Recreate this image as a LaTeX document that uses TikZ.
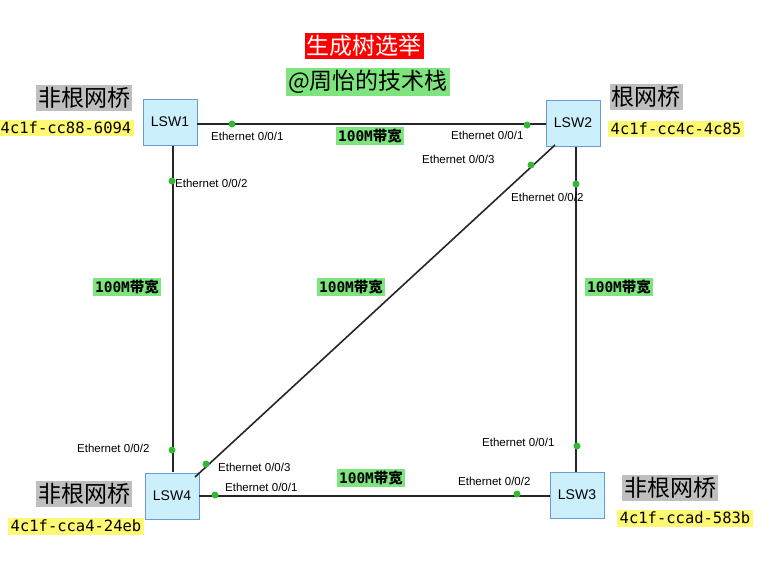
\documentclass[tikz,border=0pt]{standalone}
\usepackage{fontspec}
\setmainfont{Liberation Sans}
\newfontfamily\cjk{Noto Sans CJK SC}
\newfontfamily\mono{DejaVu Sans Mono}
\begin{document}
\begin{tikzpicture}[x=1pt,y=-1pt,
  sw/.style={draw=cyan!50!blue!60,fill=cyan!20,minimum width=54pt,minimum height=46pt,inner sep=0pt,font=\fontsize{14}{14}\selectfont},
  link/.style={line width=1.6pt,black!85},
  dot/.style={circle,fill=green!65!black!80,inner sep=0pt,minimum size=7pt},
  port/.style={font=\fontsize{11.5}{11.5}\selectfont,inner sep=1pt},
  bw/.style={fill=green!45!white!90!black,font=\mono\fontsize{14.5}{14.5}\selectfont\bfseries,inner sep=2pt},
  role/.style={fill=black!25,font=\cjk\fontsize{23}{23}\selectfont,inner sep=2pt},
  mac/.style={fill=yellow!55,font=\mono\fontsize{15.5}{15.5}\selectfont,inner sep=2.5pt}]
\useasboundingbox (0,0) rectangle (776,562);
\node[fill=red,text=white,font=\cjk\fontsize{23}{23}\selectfont,inner sep=2pt] (t1) at (364,46) {生成树选举};
\node[fill=green!45!white!90!black,font=\cjk\fontsize{23}{23}\selectfont,inner sep=2pt] (t2) at (368,82) {@周怡的技术栈};
\node[sw] (s1) at (170,122) {LSW1};
\node[sw] (s2) at (573,123) {LSW2};
\node[sw] (s3) at (577,495) {LSW3};
\node[sw] (s4) at (172,496) {LSW4};
\draw[link] (s1.east|-0,124) -- (s2.west|-0,124);
\draw[link] (173,146) -- (173,472);
\draw[link] (576,147) -- (576,472);
\draw[link] (s4.east|-0,496) -- (s3.west|-0,496);
\draw[link] (195,477) -- (555,145);
\foreach \p in {(232,124),(527,125),(172,181),(172,450),(576,184),(577,446),(215,495),(517,494),(206,464),(531,165)} \node[dot] at \p {};
\node[port,anchor=west] (p1) at (210,136) {Ethernet 0/0/1};
\node[port,anchor=west] (p2) at (450,135) {Ethernet 0/0/1};
\node[port,anchor=west] (p3) at (421,159) {Ethernet 0/0/3};
\node[port,anchor=west] (p4) at (510,197) {Ethernet 0/0/2};
\node[port,anchor=west] (p5) at (174,183) {Ethernet 0/0/2};
\node[port,anchor=west] (p6) at (76,448) {Ethernet 0/0/2};
\node[port,anchor=west] (p7) at (217,467) {Ethernet 0/0/3};
\node[port,anchor=west] (p8) at (224,487) {Ethernet 0/0/1};
\node[port,anchor=west] (p9) at (481,442) {Ethernet 0/0/1};
\node[port,anchor=west] (p10) at (457,481) {Ethernet 0/0/2};
\node[bw] (b1) at (370,136) {100M\cjk 带宽};
\node[bw] (b2) at (127,287) {100M\cjk 带宽};
\node[bw] (b3) at (351,287) {100M\cjk 带宽};
\node[bw] (b4) at (619,287) {100M\cjk 带宽};
\node[bw] (b5) at (371,478) {100M\cjk 带宽};
\node[role] (r1) at (84,98) {非根网桥};
\node[mac] (m1) at (66,128) {4c1f-cc88-6094};
\node[role] (r2) at (646,97) {根网桥};
\node[mac] (m2) at (676,129) {4c1f-cc4c-4c85};
\node[role] (r4) at (84,494) {非根网桥};
\node[mac] (m4) at (76,526) {4c1f-cca4-24eb};
\node[role] (r3) at (670,488) {非根网桥};
\node[mac] (m3) at (685,518) {4c1f-ccad-583b};
\end{tikzpicture}
\end{document}
